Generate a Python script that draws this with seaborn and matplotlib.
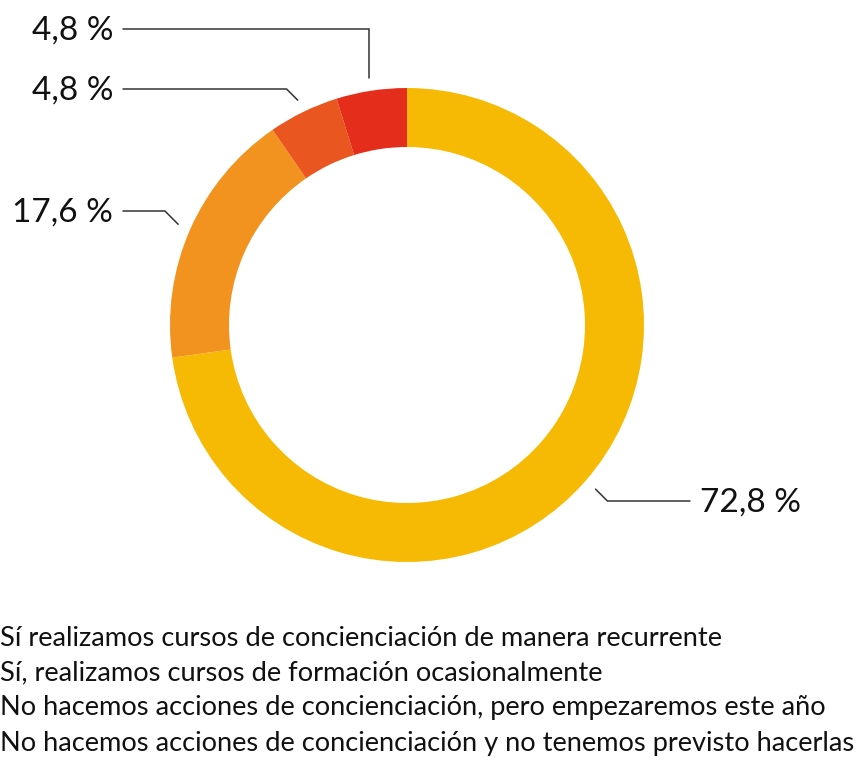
import numpy as np
import matplotlib.pyplot as plt
import seaborn as sns

categories = [
    "Sí realizamos cursos de concienciación de manera recurrente",
    "Sí, realizamos cursos de formación ocasionalmente",
    "No hacemos acciones de concienciación, pero empezaremos este año",
    "No hacemos acciones de concienciación y no tenemos previsto hacerlas",
]
values = [72.8, 17.6, 4.8, 4.8]
colors = ["#F6BA04", "#F2921F", "#EA561F", "#E52D1C"]

sns.set_style("white")
plt.rcParams["font.family"] = ["Lato", "DejaVu Sans"]

W, H = 859, 760
fig = plt.figure(figsize=(W / 100, H / 100), dpi=100)
ax = fig.add_axes([0, 0, 1, 1])

cx, cy, r = 407, H - 325, 237
wedges, _ = ax.pie(values, colors=colors, startangle=90, counterclock=False,
                   center=(cx, cy), radius=r, frame=True,
                   wedgeprops=dict(width=59, linewidth=0))
ax.set_xlim(0, W)
ax.set_ylim(0, H)
ax.set_aspect("equal")
ax.axis("off")

# label layout: text y (from top), line end x, vertical elbow
label_y = [501, 211, 89, 29]
line_end = [690, 123, 123, 123]
vertical = [False, False, False, True]

for w, v, ty, lx, vert in zip(wedges, values, label_y, line_end, vertical):
    ang = np.deg2rad((w.theta1 + w.theta2) / 2)
    sx, sy = cx + 250 * np.cos(ang), cy + 250 * np.sin(ang)
    ty = H - ty
    side = 1 if np.cos(ang) > 0 else -1
    ex = sx if vert else sx + side * abs(ty - sy)
    ax.plot([sx, ex, lx], [sy, ty, ty], color="#333333", lw=1.1,
            solid_joinstyle="miter")
    label = f"{v:.1f}".replace(".", ",") + " %"
    tx = lx + 10 if side > 0 else lx - 10
    ax.text(tx, ty - 2, label, ha="left" if side > 0 else "right", va="center",
            fontsize=24, color="#111111")

for i, c in enumerate(categories):
    ax.text(0, H - (638 + 35 * i), c, ha="left", va="center", fontsize=19.6,
            color="#111111")

fig.savefig("out.png", dpi=100)
